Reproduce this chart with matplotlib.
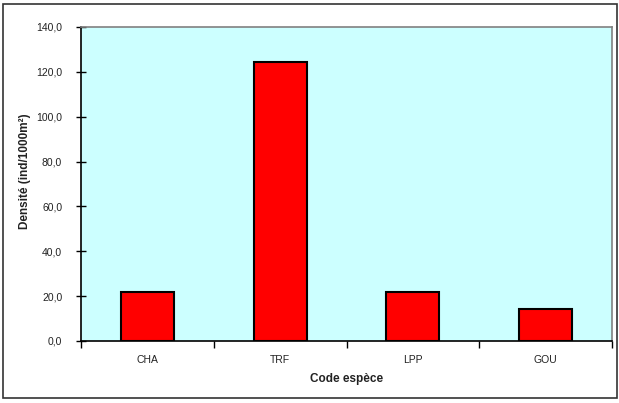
import matplotlib
matplotlib.use("Agg")
import matplotlib.pyplot as plt
from matplotlib.patches import Rectangle
from matplotlib.ticker import FuncFormatter, FixedLocator

categories = ["CHA", "TRF", "LPP", "GOU"]
densite = [21.8, 124.5, 21.8, 14.3]
y_ticks = [0, 20, 40, 60, 80, 100, 120, 140]

plt.rcParams['font.family'] = ['Liberation Sans', 'DejaVu Sans']
txt = "#222222"

fig = plt.figure(figsize=(6.19, 4.03), dpi=100)
fig.patch.set_facecolor("white")
fig.add_artist(Rectangle((3/619, 1 - 398/403), 614/619, 394/403,
                         transform=fig.transFigure, fill=False,
                         edgecolor="#333333", linewidth=1.2))

ax = fig.add_axes([81/619, 1 - 341/403, 531/619, 314/403])
ax.set_facecolor("#CCFFFF")
x = list(range(len(categories)))
ax.bar(x, densite, width=0.4, color="#FF0000", edgecolor="black", linewidth=1.5, zorder=3)

ax.set_xlim(-0.5, len(categories) - 0.5)
ax.set_ylim(0, 140)
ax.set_yticks(y_ticks)
ax.yaxis.set_major_formatter(FuncFormatter(lambda v, p: f"{v:.1f}".replace(".", ",")))
ax.set_xticks(x)
ax.set_xticklabels(categories)
ax.xaxis.set_minor_locator(FixedLocator([i - 0.5 for i in range(len(categories) + 1)]))
ax.tick_params(axis="x", which="major", length=0, pad=10, labelsize=7.5, labelcolor=txt)
ax.tick_params(axis="x", which="minor", length=5, width=1, direction="out")
ax.tick_params(axis="y", length=7, width=1, direction="inout", labelsize=7.5,
               pad=10, labelcolor=txt)

for s in ["left", "bottom"]:
    ax.spines[s].set_color("black")
    ax.spines[s].set_linewidth(1.2)
for s in ["top", "right"]:
    ax.spines[s].set_color("#808080")
    ax.spines[s].set_linewidth(1.2)

ax.set_xlabel("Code espèce", fontsize=8.5, fontweight="bold", labelpad=6, color=txt)
ax.set_ylabel("Densité (ind/1000m²)", fontsize=8.5, fontweight="bold", color=txt)
ax.yaxis.set_label_coords(-50/531, 0.54)

fig.savefig("out.png", dpi=100)
